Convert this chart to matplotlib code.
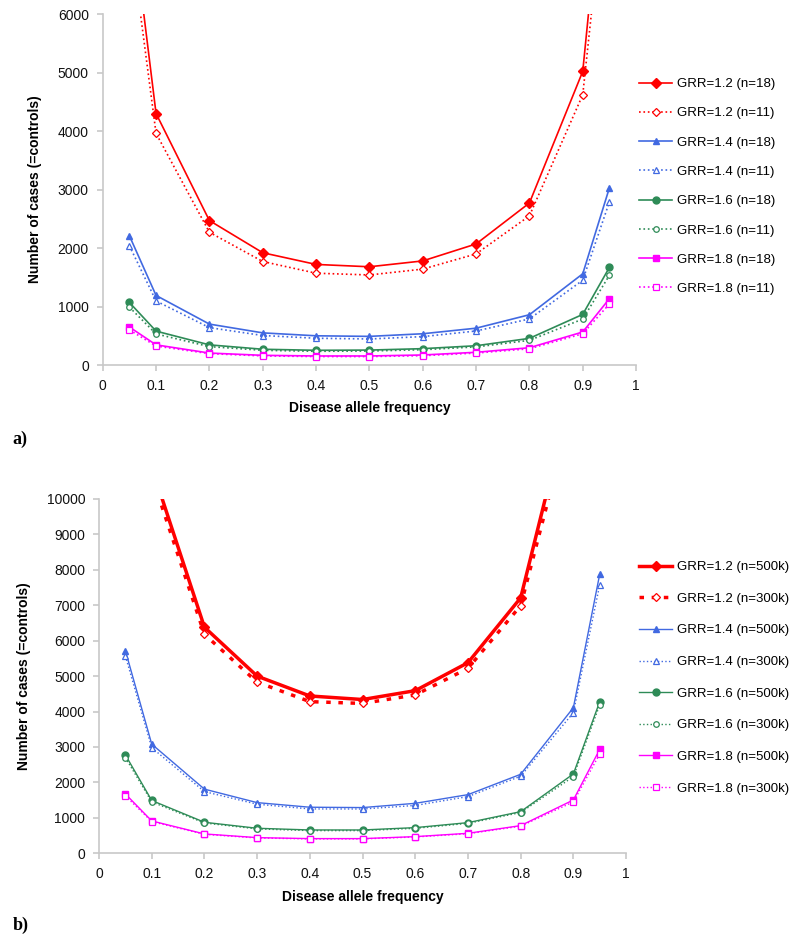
import matplotlib
matplotlib.use('Agg')
import matplotlib.pyplot as plt
from matplotlib.ticker import FormatStrFormatter

# disease allele frequency
freq = [0.05, 0.1, 0.2, 0.3, 0.4, 0.5, 0.6, 0.7, 0.8, 0.9, 0.95]

# panel a) sample sizes, n=18 vs n=11
grr12_n18 = [8000, 4300, 2470, 1920, 1720, 1680, 1780, 2070, 2770, 5020, 9600]
grr12_n11 = [7450, 3960, 2270, 1770, 1570, 1540, 1640, 1900, 2550, 4620, 8900]
grr14_n18 = [2210, 1190, 700, 550, 500, 490, 535, 630, 860, 1560, 3030]
grr14_n11 = [2040, 1095, 640, 505, 458, 446, 486, 582, 788, 1450, 2790]
grr16_n18 = [1070, 580, 345, 270, 252, 256, 280, 330, 456, 866, 1670]
grr16_n11 = [990, 532, 315, 252, 235, 240, 262, 310, 422, 786, 1535]
grr18_n18 = [650, 345, 205, 166, 155, 155, 172, 218, 296, 565, 1135]
grr18_n11 = [600, 325, 195, 156, 145, 145, 160, 205, 278, 535, 1045]

# panel b) sample sizes, n=500k vs n=300k
grr12_500k = [20000, 10900, 6380, 5000, 4440, 4340, 4590, 5380, 7210, 13200, 25000]
grr12_300k = [19000, 10650, 6180, 4830, 4280, 4230, 4470, 5220, 6990, 12700, 24000]
grr14_500k = [5720, 3080, 1810, 1430, 1300, 1290, 1410, 1655, 2230, 4110, 7880]
grr14_300k = [5570, 2980, 1740, 1385, 1252, 1250, 1350, 1600, 2175, 3970, 7580]
grr16_500k = [2775, 1490, 875, 706, 658, 658, 724, 865, 1175, 2240, 4280]
grr16_300k = [2700, 1450, 855, 688, 640, 640, 705, 845, 1150, 2165, 4190]
grr18_500k = [1675, 913, 546, 442, 414, 414, 470, 564, 781, 1505, 2935]
grr18_300k = [1620, 895, 535, 432, 405, 405, 460, 552, 765, 1450, 2805]

RED = '#ff0000'
BLUE = '#4169e1'
GREEN = '#2e8b57'
MAGENTA = '#ff00ff'
AXCOL = '#c8c8c8'

plt.rcParams['font.family'] = ['Liberation Sans', 'DejaVu Sans']
plt.rcParams['font.size'] = 10

fig = plt.figure(figsize=(8, 9.44), dpi=100)
ax1 = fig.add_axes([0.1284, 0.6133, 0.6667, 0.3718])
ax2 = fig.add_axes([0.1238, 0.0961, 0.6588, 0.3753])


def style_axes(ax, ymax, ystep):
    for s in ['top', 'right']:
        ax.spines[s].set_visible(False)
    for s in ['left', 'bottom']:
        ax.spines[s].set_color(AXCOL)
        ax.spines[s].set_linewidth(1.2)
    ax.set_xlim(0, 1)
    ax.set_ylim(0, ymax)
    ax.set_xticks([i / 10 for i in range(11)])
    ax.set_yticks(range(0, ymax + 1, ystep))
    ax.xaxis.set_major_formatter(FormatStrFormatter('%g'))
    ax.tick_params(axis='both', direction='out', length=4, color=AXCOL,
                   width=1.2, labelsize=10, labelcolor='#111111')
    ax.tick_params(axis='x', pad=6)
    ax.tick_params(axis='y', pad=6)
    ax.set_xlabel('Disease allele frequency', fontweight='bold', fontsize=10, labelpad=6)
    ax.set_ylabel('Number of cases (=controls)', fontweight='bold', fontsize=10, labelpad=11)


def add_series(ax, solid, dotted, color, marker, ms, lw_s=1.2, lw_d=1.2, ls_d=':', lab=('', '')):
    ax.plot(freq, solid, color=color, lw=lw_s, marker=marker, ms=ms,
            mfc=color, mec=color, label=lab[0])
    ax.plot(freq, dotted, color=color, lw=lw_d, ls=ls_d, marker=marker, ms=ms - 1.0,
            mfc='white', mec=color, mew=0.9, label=lab[1])


MS = 5.0

# panel a)
add_series(ax1, grr12_n18, grr12_n11, RED, 'D', MS, lab=('GRR=1.2 (n=18)', 'GRR=1.2 (n=11)'))
add_series(ax1, grr14_n18, grr14_n11, BLUE, '^', MS, lab=('GRR=1.4 (n=18)', 'GRR=1.4 (n=11)'))
add_series(ax1, grr16_n18, grr16_n11, GREEN, 'o', MS, lab=('GRR=1.6 (n=18)', 'GRR=1.6 (n=11)'))
add_series(ax1, grr18_n18, grr18_n11, MAGENTA, 's', MS, lab=('GRR=1.8 (n=18)', 'GRR=1.8 (n=11)'))
style_axes(ax1, 6000, 1000)
ax1.legend(loc='upper left', bbox_to_anchor=(0.799, 1 - 78 / 944),
           bbox_transform=fig.transFigure, frameon=False, fontsize=9.5,
           borderpad=0, borderaxespad=0, handlelength=2.5, handletextpad=0.35,
           labelspacing=1.29)

# panel b)
add_series(ax2, grr12_500k, grr12_300k, RED, 'D', MS, lw_s=2.5, lw_d=2.5, ls_d=(0, (1.3, 2.2)),
           lab=('GRR=1.2 (n=500k)', 'GRR=1.2 (n=300k)'))
add_series(ax2, grr14_500k, grr14_300k, BLUE, '^', MS, lw_s=1.0, lw_d=1.0,
           lab=('GRR=1.4 (n=500k)', 'GRR=1.4 (n=300k)'))
add_series(ax2, grr16_500k, grr16_300k, GREEN, 'o', MS, lw_s=1.0, lw_d=1.0,
           lab=('GRR=1.6 (n=500k)', 'GRR=1.6 (n=300k)'))
add_series(ax2, grr18_500k, grr18_300k, MAGENTA, 's', MS, lw_s=1.0, lw_d=1.0,
           lab=('GRR=1.8 (n=500k)', 'GRR=1.8 (n=300k)'))
style_axes(ax2, 10000, 1000)
ax2.legend(loc='upper left', bbox_to_anchor=(0.799, 1 - 561 / 944),
           bbox_transform=fig.transFigure, frameon=False, fontsize=9.5,
           borderpad=0, borderaxespad=0, handlelength=2.5, handletextpad=0.35,
           labelspacing=1.47)

fig.text(0.016, 1 - 439 / 944, 'a)', family='Liberation Serif', fontweight='bold',
         fontsize=13, va='center', ha='left')
fig.text(0.016, 1 - 925 / 944, 'b)', family='Liberation Serif', fontweight='bold',
         fontsize=13, va='center', ha='left')

fig.savefig('out.png', dpi=100, facecolor='white')
